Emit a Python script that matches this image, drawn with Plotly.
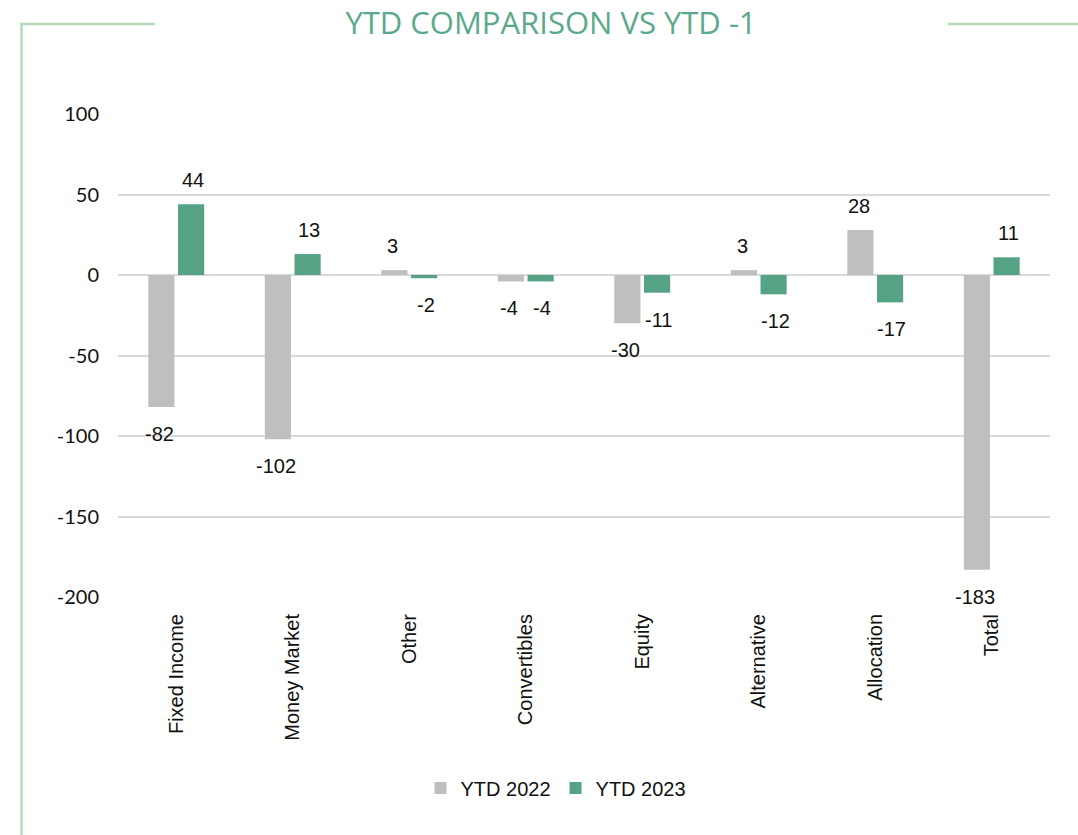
import plotly.graph_objects as go

categories = ["Fixed Income", "Money Market", "Other", "Convertibles", "Equity",
              "Alternative", "Allocation", "Total"]
ytd_2022 = [-82, -102, 3, -4, -30, 3, 28, -183]
ytd_2023 = [44, 13, -2, -4, -11, -12, -17, 11]
y_ticks = [100, 50, 0, -50, -100, -150, -200]
y_tick_labels = ["100", "50", "0", "-50", "-100", "-150", "-200"]

W, H = 1078, 835
L, R, T, B = 118, 28, 114, 238
PW, PH = W - L - R, H - T - B

def px_x(p):
    return (p - L) / PW

def px_y(p):
    return (H - B - p) / PH

GREY = "#BFBFBF"
GREEN = "#55A384"
SANS = "'Liberation Sans', Arial, sans-serif"
LATO = "Lato"
TITLE_FONT = "'Open Sans', 'Noto Sans', sans-serif"

fig = go.Figure()
fig.add_trace(go.Bar(name="YTD 2022", x=categories, y=ytd_2022, marker_color=GREY,
                     marker_line_width=0))
fig.add_trace(go.Bar(name="YTD 2023", x=categories, y=ytd_2023, marker_color=GREEN,
                     marker_line_width=0))

annotations = []
for vals, shift in ((ytd_2022, -16.5), (ytd_2023, 16.5)):
    for c, v in zip(categories, vals):
        annotations.append(dict(x=c, y=v, xref="x", yref="y", text=str(v),
                                showarrow=False, xshift=shift,
                                yshift=24 if v >= 0 else -27,
                                yanchor="middle", xanchor="center",
                                font=dict(size=20, color="#111111", family=SANS)))

line_col = "#B8D8BB"
shapes = [
    dict(type="line", xref="paper", yref="paper", x0=px_x(21.5), x1=px_x(21.5),
         y0=px_y(24), y1=px_y(840), line=dict(color=line_col, width=2.5)),
    dict(type="line", xref="paper", yref="paper", x0=px_x(20), x1=px_x(155),
         y0=px_y(24), y1=px_y(24), line=dict(color=line_col, width=2.5)),
    dict(type="line", xref="paper", yref="paper", x0=px_x(948), x1=px_x(1078),
         y0=px_y(24), y1=px_y(24), line=dict(color=line_col, width=2.5)),
]

fig.update_layout(
    width=W, height=H,
    margin=dict(l=L, r=R, t=T, b=B),
    paper_bgcolor="white", plot_bgcolor="white",
    barmode="group", bargap=0.49, bargroupgap=0.12,
    font=dict(family=SANS, size=20, color="#111111"),
    title=dict(text="YTD COMPARISON VS YTD -1", x=551 / W, xref="container",
               xanchor="center", y=1 - 23 / H, yref="container", yanchor="middle",
               font=dict(size=31, color="#5AAA8A", family=TITLE_FONT)),
    showlegend=True,
    legend=dict(orientation="h", x=px_x(556), xanchor="center", y=px_y(788),
                yanchor="middle", font=dict(size=20, family=SANS),
                itemwidth=30, traceorder="normal"),
    annotations=annotations,
    shapes=shapes,
)
fig.update_yaxes(range=[-200, 100], tickvals=y_ticks, ticktext=y_tick_labels,
                 showgrid=True, gridcolor="#D9D9D9", gridwidth=1.5, zeroline=False,
                 showline=False, ticks="", ticklabelstandoff=18,
                 tickfont=dict(size=20, family=LATO))
fig.update_xaxes(tickangle=-90, showline=False, ticks="", ticklabelstandoff=12,
                 tickfont=dict(size=20, family=SANS))

fig.write_html("out.html", config={"displayModeBar": False},
               post_script="document.body.style.margin='0';document.body.style.padding='0';")
